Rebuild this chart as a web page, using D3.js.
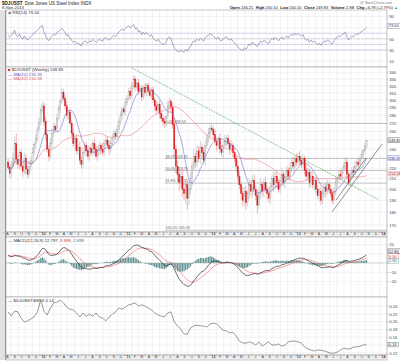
<!DOCTYPE html>
<html>
<head>
<meta charset="utf-8">
<style>
     body { margin: 0; background: #fff; }
     svg { display: block; font-family: "Liberation Sans", Arial, sans-serif; }
     .tick text { font-size: 4.2px; fill: #444; }
     .lbl { font-size: 4.3px; fill: #333; }
</style>
</head>
<body>
<script src="https://d3js.org/d3.v7.min.js"></script>
<script>

     // weekly closes of $DJUSST, first week ending 21-Aug-2009, last 8-Nov-2013
     var firstWeek = "2009-08-21";
     var firstOpen = 226;
     var closes = [221,215,222,230,246,229,224,236,222,217,
          230,219,214,222,228,236,245,252,262,271,
          286,292,272,256,240,232,246,258,266,262,
          276,288,298,310,302,292,280,284,270,258,
          246,252,238,242,228,224,236,244,238,232,
          241,236,246,240,232,238,244,240,236,246,
          250,244,240,246,252,258,254,262,272,280,
          288,284,296,302,312,306,320,330,318,324,
          312,316,304,318,310,320,312,306,314,300,
          292,286,294,282,276,272,270,278,292,298,
          290,268,240,222,214,206,212,200,196,204,
          192,200,210,222,232,226,238,230,242,236,
          228,244,252,258,264,262,256,248,244,252,
          240,236,244,248,252,246,240,244,236,230,
          222,212,204,196,190,198,188,196,204,198,
          208,200,194,186,196,204,198,206,200,196,
          192,202,210,204,212,206,200,208,214,206,
          212,218,212,220,226,222,230,226,232,228,
          224,230,218,212,216,206,212,204,208,200,
          194,198,190,196,202,198,204,200,196,190,
          198,206,210,214,212,218,222,226,214,206,
          212,218,216,222,226,224,230,234,238,243.05,249.83];

     // how far the high / low reach past the body
     var wickUp = [4,3,5,6,8,12,4,3,5,2,6,4,3,5,4,6,3,5,4,6,
          3,4,6,5,3,4,6,5,4,3,6,5,4,7,5,4,6,3,5,4,
          6,4,5,3,6,4,5,3,4,6,3,5,4,6,3,5,4,3,6,4,
          5,4,6,3,5,4,3,6,4,5,3,4,6,5,4,6,5,6,4,5,
          6,4,5,3,6,4,5,6,3,5,4,6,3,5,4,6,5,3,6,5,
          4,6,8,5,6,7,5,8,6,5,4,7,6,5,8,4,6,5,7,4,
          6,5,4,6,3,5,4,6,5,3,6,4,5,8,3,5,4,6,3,5,
          4,6,5,3,6,4,5,3,6,4,5,6,3,5,4,6,3,4,5,3,
          5,4,3,6,4,5,3,4,6,3,5,4,3,5,4,6,3,5,4,6,
          4,5,3,6,4,3,5,4,3,5,4,3,5,4,3,4,5,3,4,3,
          4,5,3,4,5,3,4,5,4,3,4,3,4,5,3,4,3,4,3,4,0.3];
     var wickDn = [3,5,4,3,5,6,4,5,4,6,3,5,4,3,5,4,3,5,4,3,
          4,3,5,6,4,5,3,4,5,3,4,3,5,4,3,5,4,6,3,5,
          4,6,3,5,4,4,5,3,6,4,5,3,4,6,3,5,4,6,3,4,
          5,3,6,4,3,5,4,3,5,4,6,3,5,4,3,6,4,5,6,3,
          5,4,6,3,5,4,6,3,5,4,6,5,3,6,4,5,6,4,3,5,
          6,5,8,7,6,8,5,7,6,9,10,6,5,7,4,6,5,4,6,5,
          4,6,3,5,4,3,5,4,6,3,5,4,6,3,5,4,6,3,5,4,
          6,5,4,6,5,4,6,3,5,4,6,5,4,7,3,5,4,6,3,5,
          4,5,3,6,4,5,3,4,6,3,5,4,3,5,4,3,5,4,3,5,
          4,3,5,4,3,5,4,3,5,4,3,5,4,3,4,5,3,4,3,3,
          4,3,5,4,3,4,3,4,5,3,4,3,4,3,4,3,4,3,4,3,3];

     // $DJUSST:$SPX, every second week
     var ratioValues = [0.225,0.214,0.227,0.225,0.209,0.199,0.202,0.207,0.212,0.225,
          0.255,0.227,0.217,0.235,0.248,0.250,0.255,0.248,0.237,0.232,
          0.230,0.222,0.212,0.222,0.214,0.219,0.214,0.222,0.212,0.209,
          0.202,0.212,0.219,0.225,0.235,0.232,0.237,0.243,0.245,0.248,
          0.240,0.243,0.240,0.235,0.230,0.222,0.217,0.214,0.212,0.222,
          0.225,0.199,0.189,0.181,0.168,0.168,0.184,0.189,0.191,0.189,
          0.189,0.186,0.194,0.196,0.194,0.186,0.178,0.176,0.171,0.173,
          0.163,0.150,0.145,0.145,0.148,0.145,0.140,0.148,0.137,0.143,
          0.148,0.140,0.140,0.143,0.137,0.140,0.148,0.150,0.150,0.148,
          0.145,0.135,0.130,0.127,0.125,0.127,0.127,0.125,0.122,0.119,
          0.119,0.122,0.127,0.132,0.130,0.130,0.135,0.135,0.137,0.140,0.141];

     var priceTicks = [170,180,190,200,210,220,230,240,250,260,270,280,290,300,310,320,330,340];
     var rsiTicks = [10,30,50,70,90];
     var rsiLines = [30,40,60];
     var macdTicks = [20,10,0,-10,-20];
     var ratioTicks = [0.12,0.14,0.16,0.18,0.20,0.22,0.24];
     var monthLetters = ["J","F","M","A","M","J","J","A","S","O","N","D"];

     var fibStart = "2011-06-24";
     var fibLevels = [269.53, 229.95, 217.73, 205.51, 165.93];
     var fibLabels = ["0.0% 269.53", "38.2% 229.95", "50.0% 217.73", "61.8% 205.51", "100.0% 165.93"];

     // trend lines: [date, price] pairs
     var downTrend = [["2011-02-04", 346.9], ["2013-12-27", 191]];
     var upTrends = [[["2013-06-13", 180.3], ["2014-01-14", 245.5]],
                     [["2013-06-30", 190.3], ["2013-11-06", 230.4]]];

     var rsiSeedGain = 4.5, rsiSeedLoss = 3.5;
     var macdSeed = 9, signalSeed = 8;

     // last values shown in the legends and the right-hand boxes
     var lastClose = 249.83, lastMa10 = 230.33, lastMa40 = 214.58, lastRsi = 73.00;
     var lastMacd = 12.797, lastSignal = 9.898, lastHist = 2.899, lastRatio = 0.1411;

     var parse = d3.utcParse("%Y-%m-%d");
     var start = parse(firstWeek);
     var dates = closes.map(function(c, i) { return d3.utcDay.offset(start, 7 * i); });

     var candles = closes.map(function(c, i) {
          var o = i ? closes[i - 1] : firstOpen;
          return {date: dates[i], open: o, close: c,
               high: Math.max(o, c) + (wickUp[i] || 0),
               low: Math.min(o, c) - (wickDn[i] || 0)};
     });

     function sma(vals, n) {
          return vals.map(function(v, i) {
               return d3.mean(vals.slice(Math.max(0, i - n + 1), i + 1));
          });
     }
     function ema(vals, n, seed) {
          var k = 2 / (n + 1), e = seed;
          return vals.map(function(v) { e = v * k + e * (1 - k); return e; });
     }
     function rsi(vals, n) {
          var ag = rsiSeedGain, al = rsiSeedLoss, out = [];
          vals.forEach(function(v, i) {
               var ch = i ? v - vals[i - 1] : 0;
               ag = (ag * (n - 1) + Math.max(ch, 0)) / n;
               al = (al * (n - 1) + Math.max(-ch, 0)) / n;
               out.push(100 - 100 / (1 + ag / al));
          });
          return out;
     }

     var ma10 = sma(closes, 10), ma40 = sma(closes, 40);
     var rsiVals = rsi(closes, 14);
     var e12 = ema(closes, 12, closes[0]), e26 = ema(closes, 26, closes[0] - macdSeed);
     var macd = e12.map(function(v, i) { return v - e26[i]; });
     var signal = ema(macd, 9, signalSeed);
     var hist = macd.map(function(v, i) { return v - signal[i]; });

     var L = 6, R = 387;
     var P = {rsi: [10, 67], price: [67, 232], strip1: [232, 237], macd: [237, 297], ratio: [297, 355], strip2: [355, 360]};

     var x = d3.scaleUtc()
          .domain([parse("2009-08-12"), parse("2014-02-04")])
          .range([L, R]);
     var yP = d3.scaleLog().domain([164.6, 348.4]).range([P.price[1], P.price[0]]);
     var yR = d3.scaleLinear().domain([0, 100]).range([66.7, 10.9]);
     var yM = d3.scaleLinear().domain([-37, 28.3]).range([P.macd[1], P.macd[0]]);
     var yQ = d3.scaleLinear().domain([0.1144, 0.2631]).range([P.ratio[1], P.ratio[0]]);

     var months = d3.utcMonth.range(parse("2009-08-01"), parse("2014-03-01"));

     var svg = d3.select("body").append("svg")
          .attr("width", 400)
          .attr("height", 361);

     svg.append("rect").attr("width", 400).attr("height", 361).attr("fill", "#fff");
     svg.append("rect").attr("x", 0).attr("y", 10).attr("width", L).attr("height", 350).attr("fill", "#e2e2e2");

     // header
     var head = svg.append("text").attr("x", 2).attr("y", 4.6).style("font-size", "4.6px").attr("fill", "#222");
     head.append("tspan").style("font-weight", "bold").text("$DJUSST");
     head.append("tspan").attr("dx", 2).text("Dow Jones US Steel Index  INDX");
     svg.append("text").attr("x", 2).attr("y", 9).style("font-size", "4.2px").attr("fill", "#333").text("8-Nov-2013");
     svg.append("text").attr("x", 376).attr("y", 3.6).attr("text-anchor", "middle").style("font-size", "3.6px").attr("fill", "#777").text("@ StockCharts.com");
     var info = svg.append("text").attr("x", 398).attr("y", 8.6).attr("text-anchor", "end").style("font-size", "4px").attr("fill", "#222");
     [["Open", "246.21"], ["High", "250.10"], ["Low", "240.10"], ["Close", "249.83"], ["Volume", "2.8B"], ["Chg", "+6.78 (+2.79%)"]].forEach(function(p, i) {
          info.append("tspan").attr("dx", i ? 2.5 : 0).style("font-weight", "bold").text(p[0]);
          info.append("tspan").attr("dx", 1).text(p[1]);
     });
     info.append("tspan").attr("fill", "#2a2").text(" \u25B2");

     // panels
     var clipId = 0;
     function panel(range) {
          var id = "c" + (clipId++);
          svg.append("clipPath").attr("id", id).append("rect")
               .attr("x", L).attr("y", range[0]).attr("width", R - L).attr("height", range[1] - range[0]);
          svg.append("rect").attr("x", L).attr("y", range[0]).attr("width", R - L).attr("height", range[1] - range[0])
               .attr("fill", "#fff");
          var g = svg.append("g").attr("clip-path", "url(#" + id + ")");
          g.selectAll(".vg").data(months).enter().append("line")
               .attr("x1", function(d) { return x(d) + 0.5; })
               .attr("x2", function(d) { return x(d) + 0.5; })
               .attr("y1", range[0]).attr("y2", range[1])
               .attr("stroke", "#e4e4ee").attr("stroke-width", 0.5);
          return g;
     }
     function hgrid(g, ticks, scale, color) {
          g.selectAll(null).data(ticks).enter().append("line")
               .attr("x1", L).attr("x2", R)
               .attr("y1", function(d) { return scale(d); })
               .attr("y2", function(d) { return scale(d); })
               .attr("stroke", color || "#e4e4ee").attr("stroke-width", 0.5);
     }
     function frame(range) {
          svg.append("rect").attr("x", L).attr("y", range[0]).attr("width", R - L).attr("height", range[1] - range[0])
               .attr("fill", "none").attr("stroke", "#a0a0a0").attr("stroke-width", 0.6);
     }
     // right axis with value boxes; tick labels that a box covers are left out
     function rightAxis(scale, ticks, fmt, boxes) {
          boxes.sort(function(a, b) { return a.y - b.y; });
          for (var i = 1; i < boxes.length; i++) {
               if (boxes[i].y - boxes[i - 1].y < 4.8) boxes[i].y = boxes[i - 1].y + 4.8;
          }
          var ax = d3.axisRight(scale).tickValues(ticks).tickSize(1.2).tickPadding(1).tickFormat(fmt);
          var g = svg.append("g").attr("transform", "translate(" + R + ",0)").call(ax);
          g.select(".domain").remove();
          g.selectAll(".tick line").attr("stroke", "#999").attr("stroke-width", 0.4);
          g.selectAll(".tick text").filter(function(d) {
               var y = scale(d);
               return boxes.some(function(b) { return Math.abs(b.y - y) < 4.6; });
          }).remove();
          boxes.forEach(function(b) {
               var w = b.text.length * 2.2 + 1.5;
               svg.append("rect").attr("x", R + 1).attr("y", b.y - 2.3).attr("width", w).attr("height", 4.6)
                    .attr("fill", b.fill || "#fff").attr("stroke", b.stroke).attr("stroke-width", 0.4);
               svg.append("text").attr("x", R + 1.8).attr("y", b.y + 1.5).style("font-size", "4px")
                    .attr("fill", b.color).text(b.text);
          });
     }
     function legend(y, parts) {
          var t = svg.append("text").attr("class", "lbl").attr("x", L + 2).attr("y", y);
          parts.forEach(function(p) { t.append("tspan").attr("fill", p[1]).text(p[0]); });
     }
     function strip(range) {
          svg.append("rect").attr("x", L).attr("y", range[0]).attr("width", R - L).attr("height", range[1] - range[0])
               .attr("fill", "#eeeeee").attr("stroke", "#999").attr("stroke-width", 0.5);
          var ax = d3.axisBottom(x).tickValues(months).tickSize(1.2)
               .tickFormat(function(d) {
                    var m = d.getUTCMonth();
                    return m === 0 ? "'" + d3.utcFormat("%y")(d) : monthLetters[m];
               });
          var g = svg.append("g").attr("transform", "translate(0," + range[0] + ")").call(ax);
          g.select(".domain").remove();
          g.selectAll(".tick line").attr("stroke", "#777").attr("stroke-width", 0.4);
          g.selectAll(".tick text")
               .attr("y", 2.3).attr("dy", "0.3em")
               .attr("x", function(d) { return (x(d3.utcMonth.offset(d, 1)) - x(d)) / 2; })
               .style("font-size", "3.6px")
               .style("font-weight", function(d) { return d.getUTCMonth() === 0 ? "bold" : "normal"; })
               .attr("fill", "#444");
          g.selectAll(".tick").filter(function(d) { return x(d) > R - 2; }).remove();
     }

     var line = function(scale, vals, xs) {
          return d3.line()
               .defined(function(d) { return d != null; })
               .x(function(d, i) { return x(xs[i]); })
               .y(function(d) { return scale(d); })(vals);
     };

     // ---- RSI panel
     var gR = panel(P.rsi);
     hgrid(gR, rsiTicks, yR);
     hgrid(gR, rsiLines, yR, "#a4a4cc");
     gR.append("line").attr("x1", L).attr("x2", R).attr("y1", yR(50)).attr("y2", yR(50))
          .attr("stroke", "#999").attr("stroke-width", 0.5).attr("stroke-dasharray", "1.5,1");
     gR.append("path").attr("d", line(yR, rsiVals, dates))
          .attr("fill", "none").attr("stroke", "#6f6f9f").attr("stroke-width", 0.6);
     frame(P.rsi);
     rightAxis(yR, rsiTicks, d3.format("d"), [
          {y: yR(lastRsi), text: lastRsi.toFixed(2), stroke: "#6f6f9f", color: "#333"}]);
     legend(14, [["\u25C6 ", "#6f6f9f"], ["RSI(14) " + lastRsi.toFixed(2), "#333"]]);

     // ---- price panel
     var gP = panel(P.price);
     hgrid(gP, priceTicks, yP);
     gP.selectAll(".fib").data(fibLevels).enter().append("line")
          .attr("x1", x(parse(fibStart))).attr("x2", R)
          .attr("y1", function(d) { return yP(d); })
          .attr("y2", function(d) { return yP(d); })
          .attr("stroke", "#9a9a9a").attr("stroke-width", 0.6);
     gP.selectAll(".fibt").data(fibLevels).enter().append("text")
          .attr("x", x(parse(fibStart)) + 1)
          .attr("y", function(d) { return yP(d) - 0.8; })
          .style("font-size", "3.6px").attr("fill", "#666")
          .text(function(d, i) { return fibLabels[i]; });

     var bw = 1.2;
     var cg = gP.selectAll(".candle").data(candles).enter().append("g");
     cg.append("line")
          .attr("x1", function(d) { return x(d.date); })
          .attr("x2", function(d) { return x(d.date); })
          .attr("y1", function(d) { return yP(d.high); })
          .attr("y2", function(d) { return yP(d.low); })
          .attr("stroke", function(d) { return d.close < d.open ? "#e86060" : "#a0a0a0"; })
          .attr("stroke-width", 0.45);
     cg.append("rect")
          .attr("x", function(d) { return x(d.date) - bw / 2; })
          .attr("width", bw)
          .attr("y", function(d) { return yP(Math.max(d.open, d.close)); })
          .attr("height", function(d) { return Math.max(0.5, Math.abs(yP(d.open) - yP(d.close))); })
          .attr("fill", function(d) { return d.close < d.open ? "#e41a1a" : "#e6e6e6"; })
          .attr("stroke", function(d) { return d.close < d.open ? "#d01010" : "#9a9a9a"; })
          .attr("stroke-width", 0.3);

     gP.append("path").attr("d", line(yP, ma40, dates))
          .attr("fill", "none").attr("stroke", "#f08080").attr("stroke-width", 0.6);
     gP.append("path").attr("d", line(yP, ma10, dates))
          .attr("fill", "none").attr("stroke", "#7272c8").attr("stroke-width", 0.6);

     gP.append("line")
          .attr("x1", x(parse(downTrend[0][0]))).attr("y1", yP(downTrend[0][1]))
          .attr("x2", x(parse(downTrend[1][0]))).attr("y2", yP(downTrend[1][1]))
          .attr("stroke", "#3fa83f").attr("stroke-width", 0.6).attr("stroke-dasharray", "2,0.8");
     upTrends.forEach(function(t) {
          gP.append("line")
               .attr("x1", x(parse(t[0][0]))).attr("y1", yP(t[0][1]))
               .attr("x2", x(parse(t[1][0]))).attr("y2", yP(t[1][1]))
               .attr("stroke", "#222").attr("stroke-width", 0.5);
     });
     frame(P.price);
     rightAxis(yP, priceTicks, d3.format("d"), [
          {y: yP(lastClose), text: lastClose.toFixed(2), stroke: "#333", color: "#111"},
          {y: yP(lastMa10), text: lastMa10.toFixed(2), stroke: "#7272c8", fill: "#eef", color: "#335"},
          {y: yP(lastMa40), text: lastMa40.toFixed(2), stroke: "#f08080", fill: "#fee", color: "#833"}]);
     legend(71, [["\u25A0 ", "#e41a1a"], ["$DJUSST (Weekly) " + lastClose.toFixed(2), "#333"]]);
     legend(75.5, [["\u2014 MA(10) " + lastMa10.toFixed(2), "#5c5cb0"]]);
     legend(80, [["\u2014 MA(40) " + lastMa40.toFixed(2), "#e06060"]]);

     strip(P.strip1);

     // ---- MACD panel
     var gM = panel(P.macd);
     hgrid(gM, macdTicks, yM);
     gM.selectAll(".hist").data(hist).enter().append("rect")
          .attr("x", function(d, i) { return x(dates[i]) - 0.6; })
          .attr("width", 1.2)
          .attr("y", function(d) { return Math.min(yM(d), yM(0)); })
          .attr("height", function(d) { return Math.abs(yM(d) - yM(0)); })
          .attr("fill", "#5e9090");
     gM.append("line").attr("x1", L).attr("x2", R).attr("y1", yM(0)).attr("y2", yM(0))
          .attr("stroke", "#9aaeae").attr("stroke-width", 0.4);
     gM.append("path").attr("d", line(yM, signal, dates))
          .attr("fill", "none").attr("stroke", "#f25c5c").attr("stroke-width", 0.6);
     gM.append("path").attr("d", line(yM, macd, dates))
          .attr("fill", "none").attr("stroke", "#111").attr("stroke-width", 0.6);
     frame(P.macd);
     rightAxis(yM, macdTicks, d3.format("d"), [
          {y: yM(lastMacd), text: lastMacd.toFixed(2), stroke: "#111", color: "#111"},
          {y: yM(lastSignal), text: lastSignal.toFixed(2), stroke: "#f25c5c", color: "#c33"},
          {y: yM(lastHist), text: lastHist.toFixed(2), stroke: "#5e9090", color: "#355"}]);
     legend(241.5, [["\u2014 MACD(12,26,9) " + lastMacd.toFixed(3) + ", ", "#333"],
          [lastSignal.toFixed(3), "#e04040"], [", " + lastHist.toFixed(3), "#4a7a7a"]]);

     // ---- ratio panel
     var gQ = panel(P.ratio);
     hgrid(gQ, ratioTicks, yQ);
     var rDates = ratioValues.map(function(v, j) { return d3.utcDay.offset(start, 14 * j); });
     gQ.append("path").attr("d", line(yQ, ratioValues, rDates))
          .attr("fill", "none").attr("stroke", "#555").attr("stroke-width", 0.6);
     frame(P.ratio);
     rightAxis(yQ, ratioTicks, d3.format(".2f"), [
          {y: yQ(lastRatio), text: lastRatio.toFixed(2), stroke: "#555", color: "#222"}]);
     legend(301.5, [["\u2014 $DJUSST:$SPX " + lastRatio.toFixed(2), "#333"]]);

     strip(P.strip2);

     svg.append("line").attr("x1", L - 0.5).attr("x2", L - 0.5).attr("y1", 10).attr("y2", 360)
          .attr("stroke", "#888").attr("stroke-width", 0.8);

</script>
</body>
</html>
